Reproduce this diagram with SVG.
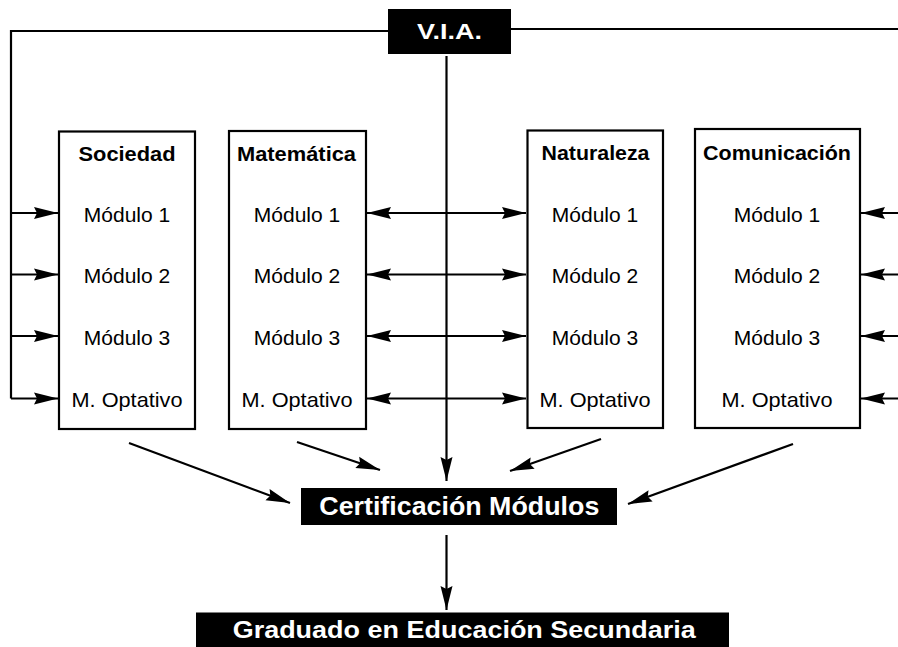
<svg xmlns="http://www.w3.org/2000/svg" width="898" height="647" viewBox="0 0 898 647">
<style>
.box{fill:#fff;stroke:#000;stroke-width:2.2}
.dark{fill:#000;stroke:none}
.hdr{font-family:"Liberation Sans",Arial,sans-serif;font-weight:bold;font-size:20px;fill:#000;text-anchor:middle}
.mod{font-family:"Liberation Sans",Arial,sans-serif;font-size:21px;fill:#000;text-anchor:middle}
.wt{font-family:"Liberation Sans",Arial,sans-serif;font-weight:bold;fill:#fff;text-anchor:middle}
.ln{fill:none;stroke:#000;stroke-width:2.2}
.ar{fill:none;stroke:#000;stroke-width:2.2;marker-end:url(#ah)}
</style>
<defs>
<marker id="ah" markerUnits="userSpaceOnUse" markerWidth="26" markerHeight="14" refX="24" refY="7" orient="auto">
<path d="M0,1 L24,7 L0,13 L3,7 z" fill="#000"/>
</marker>
</defs>

<g id="connectors">
<polyline class="ln" points="388,31 11,31 11,398.5"/>
<line class="ln" x1="511" y1="29" x2="898" y2="29"/>
<line class="ar" x1="446.5" y1="56" x2="446.5" y2="481"/>
<line class="ar" x1="446.5" y1="535" x2="446.5" y2="610"/>
<line class="ar" x1="11" y1="213" x2="58" y2="213"/>
<line class="ar" x1="11" y1="274.5" x2="58" y2="274.5"/>
<line class="ar" x1="11" y1="336" x2="58" y2="336"/>
<line class="ar" x1="11" y1="398.5" x2="58" y2="398.5"/>
<line class="ar" x1="446.5" y1="213" x2="367" y2="213"/>
<line class="ar" x1="446.5" y1="274.5" x2="367" y2="274.5"/>
<line class="ar" x1="446.5" y1="336" x2="367" y2="336"/>
<line class="ar" x1="446.5" y1="398.5" x2="367" y2="398.5"/>
<line class="ar" x1="446.5" y1="213" x2="526" y2="213"/>
<line class="ar" x1="446.5" y1="274.5" x2="526" y2="274.5"/>
<line class="ar" x1="446.5" y1="336" x2="526" y2="336"/>
<line class="ar" x1="446.5" y1="398.5" x2="526" y2="398.5"/>
<line class="ar" x1="898" y1="213" x2="861" y2="213"/>
<line class="ar" x1="898" y1="274.5" x2="861" y2="274.5"/>
<line class="ar" x1="898" y1="336" x2="861" y2="336"/>
<line class="ar" x1="898" y1="398.5" x2="861" y2="398.5"/>
<line class="ar" x1="129" y1="443" x2="290" y2="503"/>
<line class="ar" x1="297" y1="442" x2="380" y2="470"/>
<line class="ar" x1="601" y1="439" x2="510" y2="471"/>
<line class="ar" x1="793" y1="444" x2="628" y2="504"/>
</g>

<g id="via">
<rect class="dark" x="388" y="9" width="123" height="45"/>
<text class="wt" x="449.5" y="38.5" font-size="22" textLength="65" lengthAdjust="spacingAndGlyphs">V.I.A.</text>
</g>

<g id="sociedad">
<rect class="box" x="59" y="131.5" width="136" height="297.5"/>
<text class="hdr" x="127" y="161" textLength="97" lengthAdjust="spacingAndGlyphs">Sociedad</text>
<text class="mod" x="127" y="221.5">Módulo 1</text>
<text class="mod" x="127" y="283">Módulo 2</text>
<text class="mod" x="127" y="344.5">Módulo 3</text>
<text class="mod" x="127" y="406.5" textLength="111" lengthAdjust="spacingAndGlyphs">M. Optativo</text>
</g>

<g id="matematica">
<rect class="box" x="229" y="131" width="137" height="298"/>
<text class="hdr" x="296.5" y="161" textLength="119" lengthAdjust="spacingAndGlyphs">Matemática</text>
<text class="mod" x="297" y="221.5">Módulo 1</text>
<text class="mod" x="297" y="283">Módulo 2</text>
<text class="mod" x="297" y="344.5">Módulo 3</text>
<text class="mod" x="297" y="406.5" textLength="111" lengthAdjust="spacingAndGlyphs">M. Optativo</text>
</g>

<g id="naturaleza">
<rect class="box" x="527.5" y="130.5" width="135.5" height="297.5"/>
<text class="hdr" x="595.5" y="160" textLength="108" lengthAdjust="spacingAndGlyphs">Naturaleza</text>
<text class="mod" x="595" y="221.5">Módulo 1</text>
<text class="mod" x="595" y="283">Módulo 2</text>
<text class="mod" x="595" y="344.5">Módulo 3</text>
<text class="mod" x="595" y="406.5" textLength="111" lengthAdjust="spacingAndGlyphs">M. Optativo</text>
</g>

<g id="comunicacion">
<rect class="box" x="695" y="129" width="165" height="299"/>
<text class="hdr" x="777" y="160" textLength="148" lengthAdjust="spacingAndGlyphs">Comunicación</text>
<text class="mod" x="777" y="221.5">Módulo 1</text>
<text class="mod" x="777" y="283">Módulo 2</text>
<text class="mod" x="777" y="344.5">Módulo 3</text>
<text class="mod" x="777" y="406.5" textLength="111" lengthAdjust="spacingAndGlyphs">M. Optativo</text>
</g>

<g id="certificacion">
<rect class="dark" x="301" y="488" width="316" height="37"/>
<text class="wt" x="459.3" y="515" font-size="25" textLength="280" lengthAdjust="spacingAndGlyphs">Certificación Módulos</text>
</g>

<g id="graduado">
<rect class="dark" x="196" y="612.5" width="533" height="34.5"/>
<text class="wt" x="464.2" y="638" font-size="23" textLength="463" lengthAdjust="spacingAndGlyphs">Graduado en Educación Secundaria</text>
</g>
</svg>
